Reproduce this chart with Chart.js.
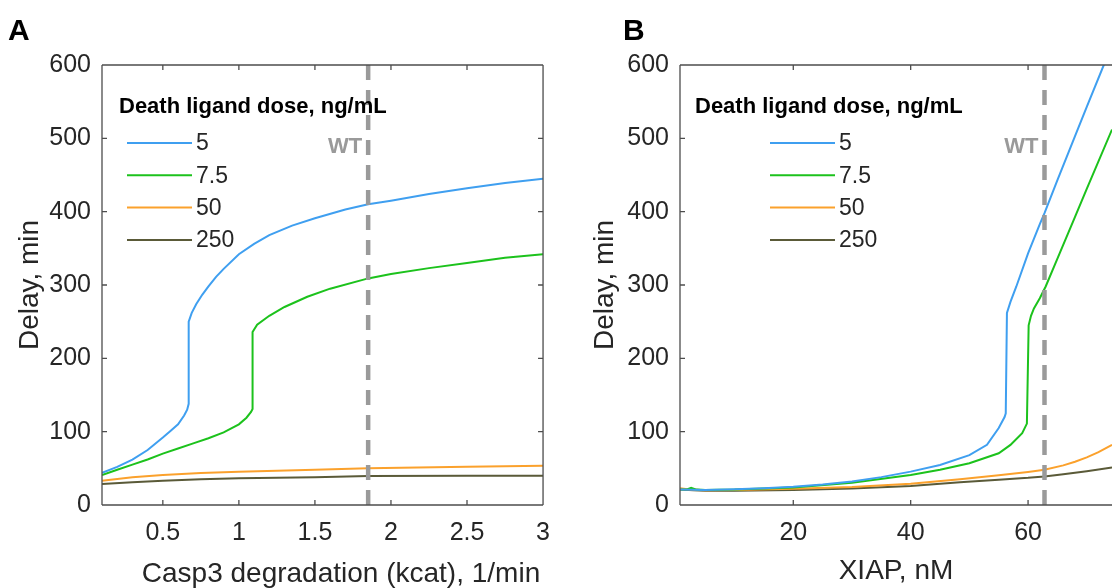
<!DOCTYPE html>
<html>
<head>
<meta charset="utf-8">
<script src="https://cdn.jsdelivr.net/npm/chart.js@4.4.1/dist/chart.umd.min.js"></script>
<style>
  html, body { margin: 0; padding: 0; background: #fff; overflow: hidden; }
  #wrap { position: relative; width: 1112px; height: 588px; }
  canvas { position: absolute; top: 0; }
  #chartA { left: 0; }
  #chartB { left: 556px; }
</style>
</head>
<body>
<div id="wrap">
  <canvas id="chartA" width="563" height="588"></canvas>
  <canvas id="chartB" width="556" height="588"></canvas>
</div>
<script>
const doseLabels = ["5", "7.5", "50", "250"];
const doseColors = ["#3f9ff0", "#1cc21c", "#fba12c", "#5a5a38"];
const delayTicks = [0, 100, 200, 300, 400, 500, 600];

// panel A: Casp3 degradation (kcat), 1/min
const kcatTicks = [0.5, 1, 1.5, 2, 2.5, 3];
const kcatWT = 1.85;
const kcat5 = [0.1, 0.2, 0.3, 0.4, 0.5, 0.55, 0.6, 0.64, 0.66, 0.67, 0.67, 0.69, 0.72, 0.76, 0.8, 0.85, 0.9, 1.0, 1.1, 1.2, 1.35, 1.5, 1.7, 1.85, 2.0, 2.25, 2.5, 2.75, 3.0];
const delayA5 = [44, 52, 62, 75, 92, 101, 110, 122, 130, 138, 250, 262, 274, 287, 298, 311, 322, 342, 356, 368, 381, 391, 403, 410, 415, 424, 432, 439, 445];
const kcat75 = [0.1, 0.2, 0.3, 0.4, 0.5, 0.6, 0.7, 0.8, 0.9, 1.0, 1.05, 1.08, 1.09, 1.09, 1.12, 1.2, 1.3, 1.45, 1.6, 1.85, 2.0, 2.25, 2.5, 2.75, 3.0];
const delayA75 = [41, 48, 55, 62, 70, 77, 84, 91, 99, 110, 119, 127, 131, 236, 246, 258, 270, 284, 295, 309, 315, 323, 330, 337, 342];
const kcat50 = [0.1, 0.3, 0.5, 0.75, 1.0, 1.5, 1.85, 2.5, 3.0];
const delayA50 = [33, 38, 41, 43.5, 45.5, 48, 50, 52, 53.5];
const kcat250 = [0.1, 0.3, 0.5, 0.75, 1.0, 1.5, 1.85, 2.5, 3.0];
const delayA250 = [28.5, 31, 33, 35, 36.5, 38, 39.5, 40, 40];

// panel B: XIAP, nM
const xiapTicks = [20, 40, 60];
const xiapWT = 62.8;
const xiap5 = [0.7, 5, 10, 15, 20, 25, 30, 35, 40, 45, 50, 53, 55, 56, 56.2, 56.4, 57, 58, 60, 62, 62.8, 65, 68, 70, 72.9, 74.3];
const delayB5 = [21, 20.5, 21.5, 23, 25, 28, 32, 38, 45.5, 54.5, 68, 82, 105, 120, 125, 262, 277, 298, 343, 383, 398, 443, 503, 543, 600, 628];
const xiap75 = [0.7, 2, 2.6, 3.5, 5, 10, 20, 30, 40, 45, 50, 55, 57, 59, 59.8, 60.1, 60.5, 61, 62, 63, 65, 68, 70, 74.3];
const delayB75 = [21, 21.5, 23.5, 21, 20.5, 21, 24, 30.5, 41, 48, 57, 70.5, 82, 98, 111, 245, 258, 268, 282, 298, 336, 393, 431, 512];
const xiap50 = [0.7, 2, 5, 10, 20, 30, 40, 48.4, 55, 60, 62.8, 66, 68, 70, 72, 74.3];
const delayB50 = [23, 21.5, 20, 20.5, 22, 24.5, 29, 35, 40.5, 45, 48, 54, 59, 65, 72, 82];
const xiap250 = [0.7, 3, 5, 10, 20, 30, 40, 48.4, 55, 60, 62.8, 66, 70, 74.3];
const delayB250 = [21, 20, 19.5, 19.5, 20.5, 22.5, 26, 31, 34.5, 37, 39, 42, 46, 51];

const FONT = '"Liberation Sans", Arial, Helvetica, sans-serif';
const TEXT = "#262626";
const AXIS = "#4d4d4d";

function pts(xs, ys) {
  return xs.map((x, i) => ({ x: x, y: ys[i] }));
}

// box, inward ticks, legend, WT label, panel letter
const panelDecor = {
  id: "panelDecor",
  afterDatasetsDraw(chart, args, o) {
    const ctx = chart.ctx;
    const a = chart.chartArea;
    const xs = chart.scales.x, ys = chart.scales.y;
    ctx.save();
    ctx.strokeStyle = AXIS;
    ctx.lineWidth = 1.3;
    ctx.beginPath();
    ctx.moveTo(a.left, a.top); ctx.lineTo(a.right, a.top);
    ctx.moveTo(a.left, a.top); ctx.lineTo(a.left, a.bottom);
    ctx.moveTo(a.left, a.bottom); ctx.lineTo(a.right, a.bottom);
    if (o.rightBorder) { ctx.moveTo(a.right, a.top); ctx.lineTo(a.right, a.bottom); }
    const tl = 5;
    xs.ticks.forEach(t => {
      const px = xs.getPixelForValue(t.value);
      ctx.moveTo(px, a.bottom); ctx.lineTo(px, a.bottom - tl);
      ctx.moveTo(px, a.top); ctx.lineTo(px, a.top + tl);
    });
    ys.ticks.forEach(t => {
      const py = ys.getPixelForValue(t.value);
      ctx.moveTo(a.left, py); ctx.lineTo(a.left + tl, py);
      if (o.rightBorder) { ctx.moveTo(a.right, py); ctx.lineTo(a.right - tl, py); }
    });
    ctx.stroke();

    // WT label next to the reference line
    ctx.fillStyle = "#9a9a9a";
    ctx.font = "bold 22px " + FONT;
    ctx.textAlign = "right";
    ctx.textBaseline = "middle";
    ctx.fillText("WT", xs.getPixelForValue(o.wt) - 6, 147);

    // legend
    ctx.fillStyle = "#000";
    ctx.font = "bold 22px " + FONT;
    ctx.textAlign = "left";
    ctx.fillText("Death ligand dose, ng/mL", o.legendX, 107);
    ctx.font = "23px " + FONT;
    ctx.fillStyle = TEXT;
    chart.data.datasets.filter(d => !d.isRef).forEach((d, i) => {
      const y = 143 + i * 32.3;
      ctx.strokeStyle = d.borderColor;
      ctx.lineWidth = 2;
      ctx.beginPath();
      ctx.moveTo(o.lineX0, y); ctx.lineTo(o.lineX1, y);
      ctx.stroke();
      ctx.fillText(d.label, o.lineX1 + 4, y + 1);
    });

    // x axis title for panel A, placed where the original has it
    if (o.xTitle) {
      ctx.font = "28px " + FONT;
      ctx.textAlign = "center";
      ctx.fillText(o.xTitle, o.xTitleX, 574);
    }

    // panel letter
    ctx.fillStyle = "#000";
    ctx.font = "bold 30px " + FONT;
    ctx.textAlign = "left";
    ctx.textBaseline = "alphabetic";
    ctx.fillText(o.letter, o.letterX, 40);
    ctx.restore();
  }
};

function makeChart(id, p) {
  const series = p.xs.map((xv, i) => ({
    label: doseLabels[i],
    data: pts(xv, p.ys[i]),
    borderColor: doseColors[i],
    borderWidth: 2,
    pointRadius: 0,
    tension: 0,
    order: 1
  }));
  series.push({
    label: "WT",
    isRef: true,
    data: [{ x: p.wt, y: 0 }, { x: p.wt, y: 600 }],
    borderColor: "#9a9a9a",
    borderWidth: 4.5,
    borderDash: [15, 10],
    pointRadius: 0,
    order: 0
  });
  return new Chart(document.getElementById(id), {
    type: "line",
    data: { datasets: series },
    options: {
      responsive: false,
      animation: false,
      layout: { padding: { left: 0, right: p.padRight, top: 65, bottom: 0 } },
      plugins: {
        legend: { display: false },
        tooltip: { enabled: false },
        panelDecor: p.decor
      },
      scales: {
        x: {
          type: "linear",
          min: p.xMin,
          max: p.xMax,
          afterBuildTicks: s => { s.ticks = p.xTicks.map(v => ({ value: v })); },
          afterFit: s => { s.height = 83; },
          grid: { display: false, drawTicks: false },
          border: { display: false },
          ticks: {
            color: TEXT, font: { family: FONT, size: 25 }, padding: 13,
            maxRotation: 0, autoSkip: false, callback: v => String(v)
          },
          title: {
            display: p.xTitleOnAxis,
            text: p.xTitleText,
            color: TEXT, font: { family: FONT, size: 28 },
            padding: { top: 0, bottom: 0 }
          }
        },
        y: {
          type: "linear",
          min: 0,
          max: 600,
          afterBuildTicks: s => { s.ticks = delayTicks.map(v => ({ value: v })); },
          afterFit: s => { s.width = p.yWidth; },
          grid: { display: false, drawTicks: false },
          border: { display: false },
          ticks: { color: TEXT, font: { family: FONT, size: 25 }, padding: 11, callback: v => String(v) },
          title: {
            display: true,
            text: "Delay, min",
            color: TEXT, font: { family: FONT, size: 28 },
            padding: { top: p.yTitlePad, bottom: p.yTitlePad }
          }
        }
      }
    },
    plugins: [panelDecor]
  });
}

makeChart("chartA", {
  xs: [kcat5, kcat75, kcat50, kcat250],
  ys: [delayA5, delayA75, delayA50, delayA250],
  wt: kcatWT, xMin: 0.1, xMax: 3, xTicks: kcatTicks,
  padRight: 0, yWidth: 102, yTitlePad: 13,
  xTitleOnAxis: false, xTitleText: "",
  decor: {
    letter: "A", letterX: 8, wt: kcatWT, rightBorder: true,
    legendX: 119, lineX0: 127, lineX1: 192,
    xTitle: "Casp3 degradation (kcat), 1/min", xTitleX: 341
  }
});

makeChart("chartB", {
  xs: [xiap5, xiap75, xiap50, xiap250],
  ys: [delayB5, delayB75, delayB50, delayB250],
  wt: xiapWT, xMin: 0.7, xMax: 74.3, xTicks: xiapTicks,
  padRight: 0, yWidth: 124, yTitlePad: 32,
  xTitleOnAxis: true, xTitleText: "XIAP, nM",
  decor: {
    letter: "B", letterX: 67, wt: xiapWT, rightBorder: false,
    legendX: 139, lineX0: 214, lineX1: 279,
    xTitle: null
  }
});
</script>
</body>
</html>
